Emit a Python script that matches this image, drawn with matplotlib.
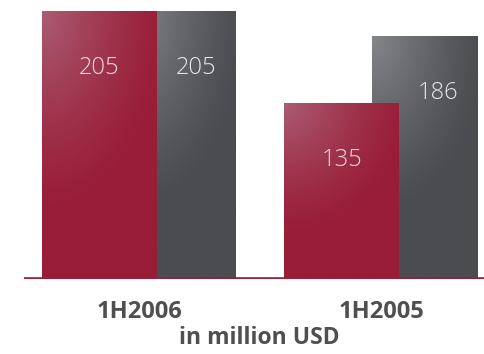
import numpy as np
import matplotlib
matplotlib.use("Agg")
import matplotlib.pyplot as plt
from matplotlib.colors import to_rgb

# Data
periods = ["1H2006", "1H2005"]
revenue_a = [205, 135]   # crimson series
revenue_b = [205, 186]   # grey series
unit_label = "in million USD"

W, H = 485, 354
fig = plt.figure(figsize=(W / 100, H / 100), dpi=100)
fig.patch.set_facecolor("white")

base_px = 279          # baseline position from top
top_px = 11            # top of the tallest bar
ymax = max(max(revenue_a), max(revenue_b))
ax = fig.add_axes([0, (H - base_px) / H, 1, (base_px - top_px) / H])

group_px = 242.0       # pixels per group step
x0 = 139.0 / group_px
xlim = (-x0, (W - 139.0) / group_px)

w_a = 115 / group_px
w_b = 106 / group_px
off_a = -39.5 / group_px
off_b = 44.0 / group_px

crimson_base = np.array(to_rgb("#991d37"))
crimson_light = np.array(to_rgb("#ab5d74"))
grey_base = np.array(to_rgb("#4b4c4f"))
grey_light = np.array(to_rgb("#85878b"))


def paint_gradient(bar, c_base, c_light, z):
    x, y = bar.get_x(), bar.get_y()
    w, h = bar.get_width(), bar.get_height()
    nx, ny = 120, 200
    xf = np.linspace(0, 1, nx)[None, :]
    yt = np.linspace(0, 1, ny)[:, None]       # 0 at top
    d = np.sqrt((xf / 1.1) ** 2 + (yt / 0.75) ** 2)
    t = np.clip(1 - d, 0, 1) ** 1.3
    img = c_base[None, None, :] * (1 - t[..., None]) + c_light[None, None, :] * t[..., None]
    im = ax.imshow(img, extent=(x, x + w, y, y + h), origin="upper",
                   aspect="auto", zorder=z, interpolation="bilinear")
    im.set_clip_path(bar)


xs = np.arange(len(periods))
bars_b = ax.bar(xs + off_b, revenue_b, width=w_b, color=grey_base, zorder=1,
                linewidth=0)
bars_a = ax.bar(xs + off_a, revenue_a, width=w_a, color=crimson_base, zorder=3,
                linewidth=0)
for b in bars_b:
    paint_gradient(b, grey_base, grey_light, 2)
for b in bars_a:
    paint_gradient(b, crimson_base, crimson_light, 4)

# value labels
drop = 57 / (base_px - top_px) * ymax
val_kw = dict(ha="center", va="center", fontsize=17, family="Open Sans",
              fontweight="light", zorder=6)
for i in range(len(periods)):
    ca = xs[i] + off_a
    ax.text(ca, revenue_a[i] - drop, str(revenue_a[i]), color="#f1dde2", **val_kw)
    right_a = ca + w_a / 2
    right_b = xs[i] + off_b + w_b / 2
    ax.text((right_a + right_b) / 2, revenue_b[i] - drop, str(revenue_b[i]),
            color="#e6e6e6", **val_kw)

# baseline
ax.plot([xlim[0] + 24 / group_px, xlim[1]], [0, 0], color="#9a1f38", lw=2.6,
        zorder=7, solid_capstyle="butt")

# category labels
lab_y = -(312 - base_px) / (base_px - top_px)
for i, p in enumerate(periods):
    ax.text(xs[i], lab_y, p, transform=ax.get_xaxis_transform(), ha="center",
            va="center", fontsize=17, family="Open Sans", fontweight="bold",
            color="#4f4f4f")

fig.text(259 / W, 1 - 338 / H, unit_label, ha="center", va="center",
         fontsize=16.5, family="Open Sans", fontweight="bold", color="#4f4f4f")

ax.set_xlim(*xlim)
ax.set_ylim(0, ymax)
ax.axis("off")

fig.savefig("out.png", dpi=100, facecolor="white")
